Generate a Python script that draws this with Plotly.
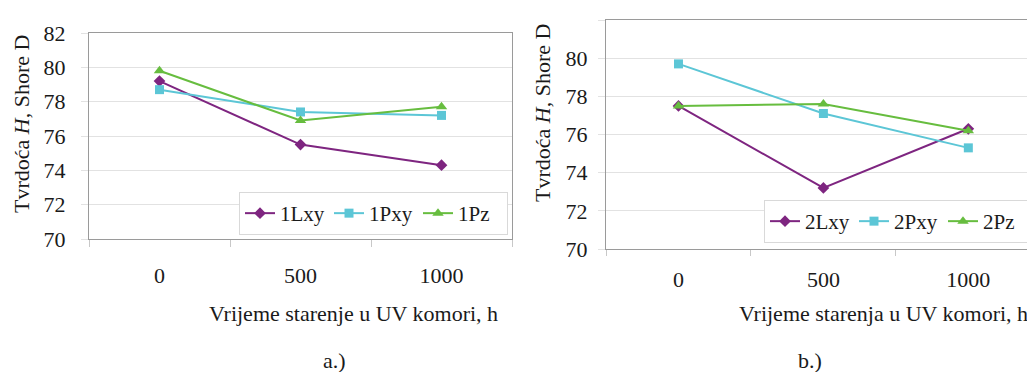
import plotly.graph_objects as go

# data
hours = ["0", "500", "1000"]

a_1Lxy = [79.2, 75.5, 74.3]
a_1Pxy = [78.7, 77.4, 77.2]
a_1Pz = [79.8, 76.9, 77.7]

b_2Lxy = [77.5, 73.2, 76.3]
b_2Pxy = [79.7, 77.1, 75.3]
b_2Pz = [77.5, 77.6, 76.2]

y_ticks = [70, 72, 74, 76, 78, 80, 82]

W, H = 1035, 372
OFF = 8  # default body margin of the html page
FONT = "Liberation Serif, Times New Roman, serif"
FS = 22
PURPLE = "#7E2580"
CYAN = "#5CC6D6"
GREEN = "#67BD3F"


def px(x):
    return (x - OFF) / (W - OFF)


def py(y):
    return 1 - (y - OFF) / (H - OFF)


fig = go.Figure()

styles = [
    (PURPLE, "diamond", 9),
    (CYAN, "square", 9),
    (GREEN, "triangle-up", 10),
]

# left chart a.)
for (name, vals), (col, sym, sz) in zip(
        [("1Lxy", a_1Lxy), ("1Pxy", a_1Pxy), ("1Pz", a_1Pz)], styles):
    fig.add_trace(go.Scatter(
        x=hours, y=vals, name=name, mode="lines+markers",
        line=dict(color=col, width=2),
        marker=dict(symbol=sym, size=sz, color=col),
        xaxis="x", yaxis="y", legend="legend"))

# right chart b.)
for (name, vals), (col, sym, sz) in zip(
        [("2Lxy", b_2Lxy), ("2Pxy", b_2Pxy), ("2Pz", b_2Pz)], styles):
    fig.add_trace(go.Scatter(
        x=hours, y=vals, name=name, mode="lines+markers",
        line=dict(color=col, width=2),
        marker=dict(symbol=sym, size=sz, color=col),
        xaxis="x2", yaxis="y2", legend="legend2"))

tfont = dict(family=FONT, size=FS, color="#1a1a1a")

xcommon = dict(
    type="category", tickson="boundaries", ticks="outside", automargin=False,
    tickcolor="#C8C8C8", showgrid=False, showline=True, linecolor="#9A9A9A",
    mirror=True, tickfont=tfont, zeroline=False,
)
ycommon = dict(
    range=[70, 82], tickvals=y_ticks, showgrid=True, gridcolor="#E2E2E2",
    showline=True, linecolor="#9A9A9A", mirror=True, ticks="outside",
    ticklen=7, tickcolor="#E2E2E2", tickfont=tfont, zeroline=False,
    automargin=False,
)

leg = dict(
    orientation="h", yanchor="bottom", xanchor="right",
    bordercolor="#D9D9D9", borderwidth=1, bgcolor="white",
    font=dict(family=FONT, size=21, color="#1a1a1a"), itemwidth=30,
    entrywidth=44, entrywidthmode="pixels", tracegroupgap=0)

fig.update_layout(
    width=W - OFF, height=H - OFF,
    margin=dict(l=0, r=0, t=0, b=0, autoexpand=False),
    paper_bgcolor="white", plot_bgcolor="white",
    font=tfont,
    xaxis=dict(domain=[px(89), px(512)], range=[-0.5, 2.5], anchor="y",
               ticklen=7, ticklabelstandoff=17, **xcommon),
    yaxis=dict(domain=[py(239), py(33)], anchor="x", ticklabelstandoff=11, **ycommon),
    xaxis2=dict(domain=[px(606), 1], range=[-0.5, 2.46], anchor="y2",
                ticklen=6, ticklabelstandoff=11, **xcommon),
    yaxis2=dict(domain=[py(249), py(20)], anchor="x2", ticklabelstandoff=6, **ycommon),
    legend=dict(x=px(508), y=py(235), **leg),
    legend2=dict(x=px(1033), y=py(243), **leg),
    showlegend=True,
)

ann = [
    dict(x=px(22), y=py(124), text="Tvrdoća <i>H</i>, Shore D", textangle=-90,
         xanchor="center"),
    dict(x=px(543), y=py(113), text="Tvrdoća <i>H</i>, Shore D", textangle=-90,
         xanchor="center"),
    dict(x=px(500), y=py(313), text="Vrijeme starenje u UV komori, h",
         xanchor="right"),
    dict(x=px(1030), y=py(313), text="Vrijeme starenja u UV komori, h",
         xanchor="right"),
    dict(x=px(334), y=py(360), text="a.)", xanchor="center"),
    dict(x=px(810), y=py(360), text="b.)", xanchor="center"),
]
for a in ann:
    fig.add_annotation(xref="paper", yref="paper", showarrow=False,
                       yanchor="middle", font=tfont, **a)

fig.write_html("out.html")
